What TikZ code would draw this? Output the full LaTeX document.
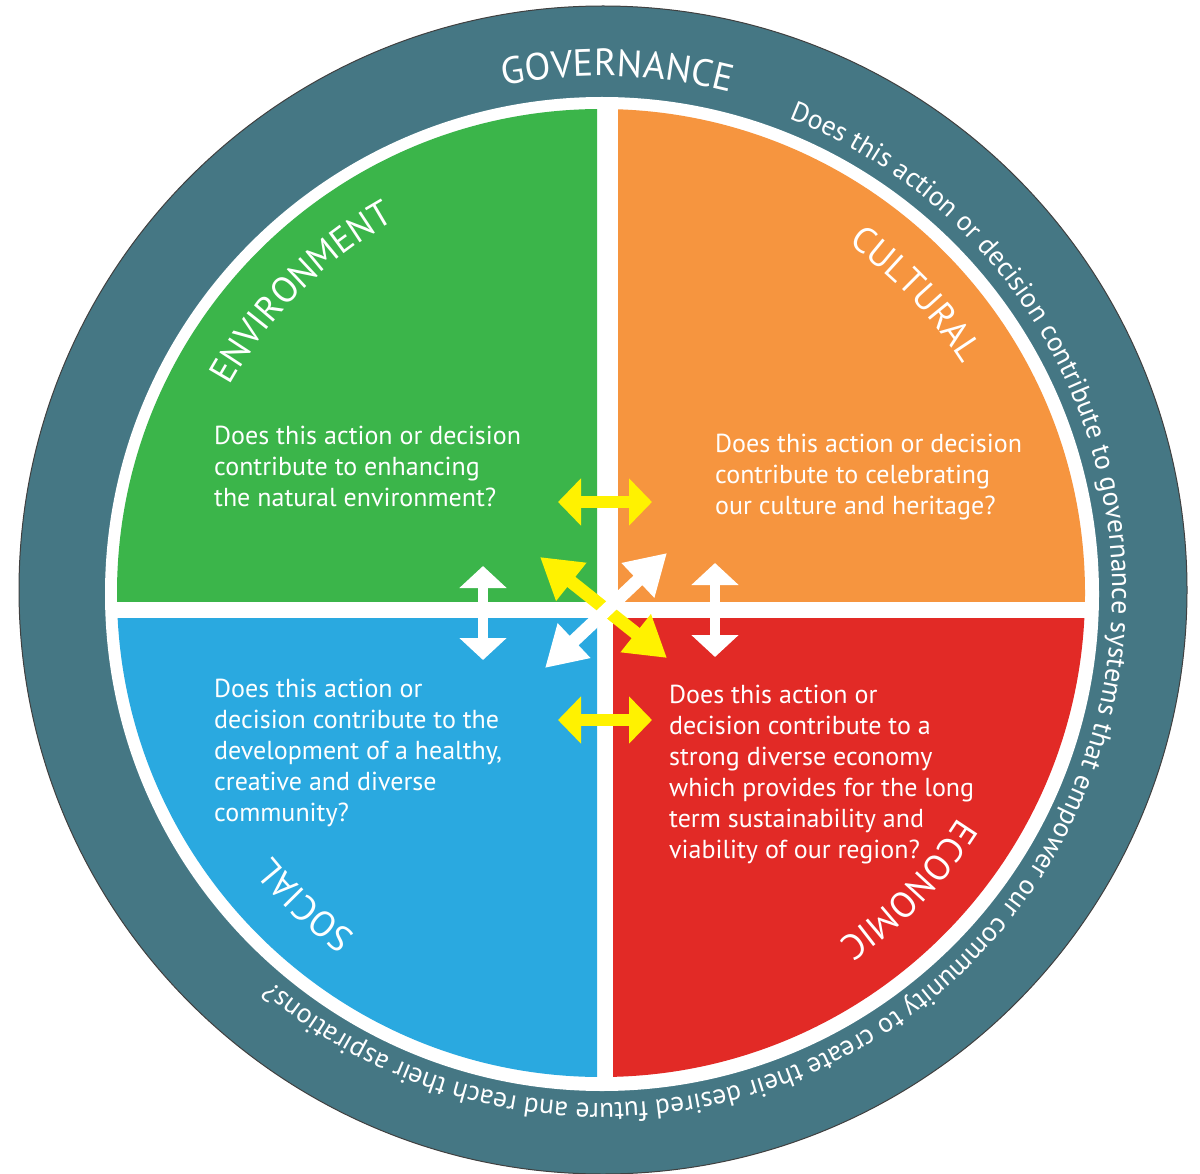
\documentclass[tikz,border=0pt]{standalone}
\usepackage{fontspec}
\setmainfont{PT Sans}
\usetikzlibrary{arrows.meta,decorations.text}
\definecolor{ringteal}{HTML}{457784}
\definecolor{envgreen}{HTML}{3BB54A}
\definecolor{culorange}{HTML}{F6953F}
\definecolor{socblue}{HTML}{2AA9E0}
\definecolor{ecored}{HTML}{E22A26}
\definecolor{arrowyellow}{HTML}{FFF200}
\newcommand\qlabelfont{\fontsize{36}{36}\selectfont}
\newcommand\govlabelfont{\fontsize{38}{38}\selectfont}
\newcommand\ringqfont{\fontsize{27.6}{28}\selectfont}
\tikzset{
  qtext/.style={text=white, anchor=base west, align=left, inner sep=0pt, font=\fontsize{26}{31}\selectfont},
  yarrow/.style={draw=arrowyellow, line width=12pt, {Triangle[length=23pt,width=46pt]}-{Triangle[length=23pt,width=46pt]}},
  warrow/.style={draw=white, line width=10pt, {Triangle[length=22pt,width=46pt]}-{Triangle[length=22pt,width=46pt]}},
  ydiag/.style={draw=arrowyellow, line width=13pt, {Triangle[length=40pt,width=46pt]}-{Triangle[length=40pt,width=46pt]}},
  wdiag/.style={draw=white, line width=13pt, {Triangle[length=40pt,width=45pt]}-{Triangle[length=40pt,width=45pt]}},
  arclabel/.style={decorate, decoration={text along path, text color=white, text align=center, text={|\qlabelfont|#1}}},
}
\begin{document}
\begin{tikzpicture}[x=1pt,y=-1pt]
\useasboundingbox (0,0) rectangle (1200,1174);
\fill[white] (0,0) rectangle (1200,1174);
% rings
\coordinate (ctr) at (603,590);
\fill[ringteal, draw=black!75, line width=1pt] (ctr) circle[radius=584pt];
\coordinate (wc) at (602,594);
\fill[white] (wc) circle[radius=497pt];
\coordinate (qc) at (601,593);
% quadrants
\begin{scope}\clip (0,0) rectangle (597,601); \fill[envgreen] (qc) circle[radius=484pt]; \end{scope}
\begin{scope}\clip (618,0) rectangle (1200,601); \fill[culorange] (qc) circle[radius=484pt]; \end{scope}
\begin{scope}\clip (0,618) rectangle (597,1174); \fill[socblue] (qc) circle[radius=484pt]; \end{scope}
\begin{scope}\clip (613,618) rectangle (1200,1174); \fill[ecored] (qc) circle[radius=484pt]; \end{scope}
% curved labels
\begin{scope}[shift={(602,593)}]
  \path[arclabel=ENVIRONMENT] (185.0:426pt) arc[start angle=185.0, end angle=85.0, radius=426pt];
  \path[arclabel=CULTURAL] (93.6:427pt) arc[start angle=93.6, end angle=-6.4, radius=427pt];
  \path[arclabel=SOCIAL] (276.4:421pt) arc[start angle=276.4, end angle=176.4, radius=421pt];
  \path[arclabel=ECONOMIC] (6.0:421pt) arc[start angle=6.0, end angle=-94.0, radius=421pt];
  \path[decorate, decoration={text along path, text color=white, text align=center, text={|\govlabelfont|GOVERNANCE}}]
     (138.3:517pt) arc[start angle=138.3, end angle=38.3, radius=517pt];
  \path[decorate, decoration={text along path, text color=white, text align=left,
     text={|\ringqfont|Does this action or decision contribute to governance systems that empower our community to create their desired future and reach their aspirations?}}]
     (68.5:510pt) arc[start angle=68.5, end angle=-150, radius=510pt];
\end{scope}
% question texts (anchored at the baseline of their last line)
\node[qtext] (envq) at (214,506) {Does this action or decision\\contribute to enhancing\\the natural environment?};
\node[qtext] (culq) at (715,514) {Does this action or decision\\contribute to celebrating\\our culture and heritage?};
\node[qtext] (socq) at (214,821) {Does this action or\\decision contribute to the\\development of a healthy,\\creative and diverse\\community?};
\node[qtext] (ecoq) at (669,858) {Does this action or\\decision contribute to a\\strong diverse economy\\which provides for the long\\term sustainability and\\viability of our region?};
% arrows
\coordinate (yh1a) at (558,502); \coordinate (yh1b) at (652,502);
\coordinate (yh2a) at (558,720); \coordinate (yh2b) at (652,720);
\coordinate (wv1a) at (483,566); \coordinate (wv1b) at (483,660);
\coordinate (wv2a) at (715,563); \coordinate (wv2b) at (715,657);
\coordinate (yd1a) at (540,557); \coordinate (yd1b) at (667,658);
\coordinate (wd1a) at (667,553); \coordinate (wd1b) at (545,668);
\draw[yarrow] (yh1a) -- (yh1b);
\draw[yarrow] (yh2a) -- (yh2b);
\draw[warrow] (wv1a) -- (wv1b);
\draw[warrow] (wv2a) -- (wv2b);
\draw[ydiag] (yd1a) -- (yd1b);
\draw[wdiag] (wd1a) -- (wd1b);
\end{tikzpicture}
\end{document}
